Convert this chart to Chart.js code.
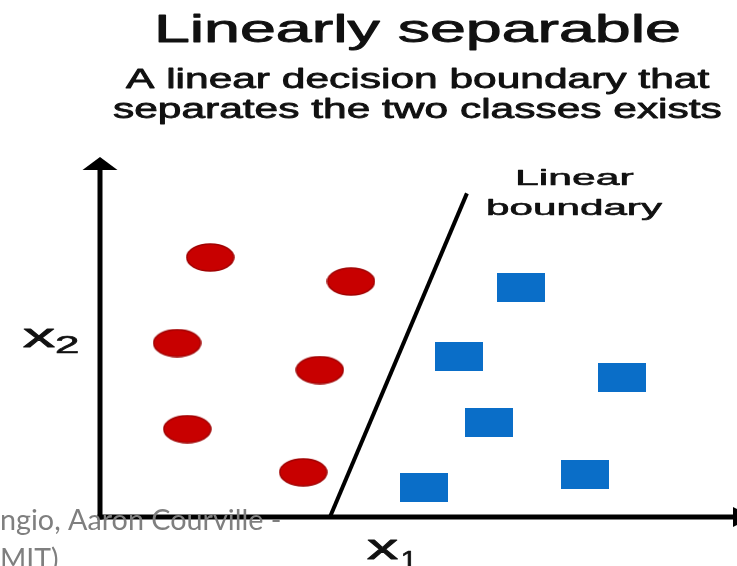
<!DOCTYPE html>
<html><head><meta charset="utf-8">
<script src="https://cdn.jsdelivr.net/npm/chart.js@4/dist/chart.umd.min.js"></script>
<style>html,body{margin:0;padding:0;background:#fff;overflow:hidden}#wrap{width:737px;height:566px;position:relative}</style>
</head><body><div id="wrap"><canvas id="c" width="737" height="566"></canvas></div>
<script>
// ---- text ----
const titleText = 'Linearly separable';
const subtitleLines = ['A linear decision boundary that', 'separates the two classes exists'];
const boundaryLabel = ['Linear', 'boundary'];
const xAxisLabel = ['x', '1'];
const yAxisLabel = ['x', '2'];
const footnoteLines = ['ngio, Aaron Courville -', 'MIT)'];

// ---- data (x1, x2 in 0..10 units) ----
const classAx = [1.73, 3.94, 1.21, 3.45, 1.37, 3.19];
const classAy = [7.21, 6.54, 4.83, 4.08, 2.44, 1.24];
const classBx = [6.61, 5.64, 8.19, 6.11, 5.09, 7.61];
const classBy = [6.38, 4.47, 3.88, 2.63, 0.82, 1.17];
const boundaryX = [3.61, 5.76];
const boundaryY = [0, 8.99];

const toPts = (xs, ys) => xs.map((x, i) => ({x: x, y: ys[i]}));

// marker images
function makeEllipse(w, h, fill, stroke) {
  const c = document.createElement('canvas'); c.width = w; c.height = h;
  const g = c.getContext('2d');
  g.beginPath(); g.ellipse(w/2, h/2, w/2 - 1, h/2 - 1, 0, 0, Math.PI*2);
  g.fillStyle = fill; g.fill(); g.lineWidth = 1.5; g.strokeStyle = stroke; g.stroke();
  return c;
}
function makeRect(w, h, fill) {
  const c = document.createElement('canvas'); c.width = w; c.height = h;
  const g = c.getContext('2d'); g.fillStyle = fill; g.fillRect(0, 0, w, h);
  return c;
}
const redMarker = makeEllipse(49, 29, '#c80000', '#a00000');
const blueMarker = makeRect(48, 29, '#0a6ec8');

function drawFit(ctx, str, font, color, left, right, baseline, weight) {
  ctx.save();
  ctx.font = font; ctx.fillStyle = color; ctx.strokeStyle = color;
  ctx.textBaseline = 'alphabetic'; ctx.textAlign = 'left';
  const m = ctx.measureText(str);
  const ink = m.actualBoundingBoxLeft + m.actualBoundingBoxRight;
  const sx = (right - left) / ink;
  ctx.translate(left, baseline); ctx.scale(sx, 1);
  ctx.fillText(str, m.actualBoundingBoxLeft, 0);
  if (weight) { ctx.lineWidth = weight; ctx.lineJoin = 'round'; ctx.strokeText(str, m.actualBoundingBoxLeft, 0); }
  ctx.restore();
}

const axesPlugin = {
  id: 'axesArrows',
  beforeDatasetsDraw(chart) {
    const {ctx, chartArea: a} = chart;
    ctx.save();
    ctx.strokeStyle = '#000'; ctx.fillStyle = '#000'; ctx.lineWidth = 5;
    ctx.beginPath(); ctx.moveTo(a.left, a.bottom + 2.5); ctx.lineTo(a.left, a.top + 10); ctx.stroke();
    ctx.beginPath(); ctx.moveTo(a.left, a.top); ctx.lineTo(a.left - 17.5, a.top + 13); ctx.lineTo(a.left + 17.5, a.top + 13); ctx.closePath(); ctx.fill();
    ctx.beginPath(); ctx.moveTo(a.left - 2.5, a.bottom); ctx.lineTo(a.right, a.bottom); ctx.stroke();
    ctx.beginPath(); ctx.moveTo(a.right - 4, a.bottom - 10); ctx.lineTo(a.right + 16, a.bottom); ctx.lineTo(a.right - 4, a.bottom + 10); ctx.closePath(); ctx.fill();
    ctx.restore();
  }
};

const textPlugin = {
  id: 'texts',
  afterDatasetsDraw(chart) {
    const ctx = chart.ctx;
    const F = '"Liberation Sans", Arial, sans-serif';
    const ink = '#111';
    drawFit(ctx, titleText, '38px ' + F, ink, 159, 679, 42, 0.9);
    drawFit(ctx, subtitleLines[0], '27px ' + F, ink, 126, 710, 88, 0.8);
    drawFit(ctx, subtitleLines[1], '27px ' + F, ink, 113, 721, 118, 0.8);
    drawFit(ctx, boundaryLabel[0], '22px ' + F, ink, 517, 633, 185, 0.6);
    drawFit(ctx, boundaryLabel[1], '22px ' + F, ink, 488, 662, 215, 0.6);
    drawFit(ctx, yAxisLabel[0], '34px ' + F, ink, 23, 55, 347, 0.8);
    drawFit(ctx, yAxisLabel[1], '23px ' + F, ink, 57, 78, 353, 0.6);
    drawFit(ctx, xAxisLabel[0], '35px ' + F, ink, 367, 399, 559, 0.8);
    drawFit(ctx, xAxisLabel[1], '23px ' + F, ink, 402, 416, 568, 0.6);
    drawFit(ctx, footnoteLines[0], '28px Lato, "Open Sans", sans-serif', '#7f7f7f', 1, 280, 530);
    drawFit(ctx, footnoteLines[1], '28px Lato, "Open Sans", sans-serif', '#7f7f7f', 2, 58, 569);
  }
};

new Chart(document.getElementById('c'), {
  type: 'scatter',
  data: {
    datasets: [
      {label: 'Linear boundary', data: toPts(boundaryX, boundaryY), showLine: true, borderColor: '#000', borderWidth: 4, pointRadius: 0, borderCapStyle: 'butt', order: 3},
      {label: 'Class 1', data: toPts(classAx, classAy), pointStyle: redMarker, pointRadius: 15, order: 1},
      {label: 'Class 2', data: toPts(classBx, classBy), pointStyle: blueMarker, pointRadius: 15, order: 2}
    ]
  },
  options: {
    responsive: false,
    animation: false,
    events: [],
    layout: {autoPadding: false, padding: {left: 100, right: 0, top: 157, bottom: 49}},
    scales: {
      x: {type: 'linear', min: 0, max: 10, display: false},
      y: {type: 'linear', min: 0, max: 10, display: false}
    },
    plugins: {legend: {display: false}, tooltip: {enabled: false}, title: {display: false}}
  },
  plugins: [axesPlugin, textPlugin]
});
</script>
</body></html>
